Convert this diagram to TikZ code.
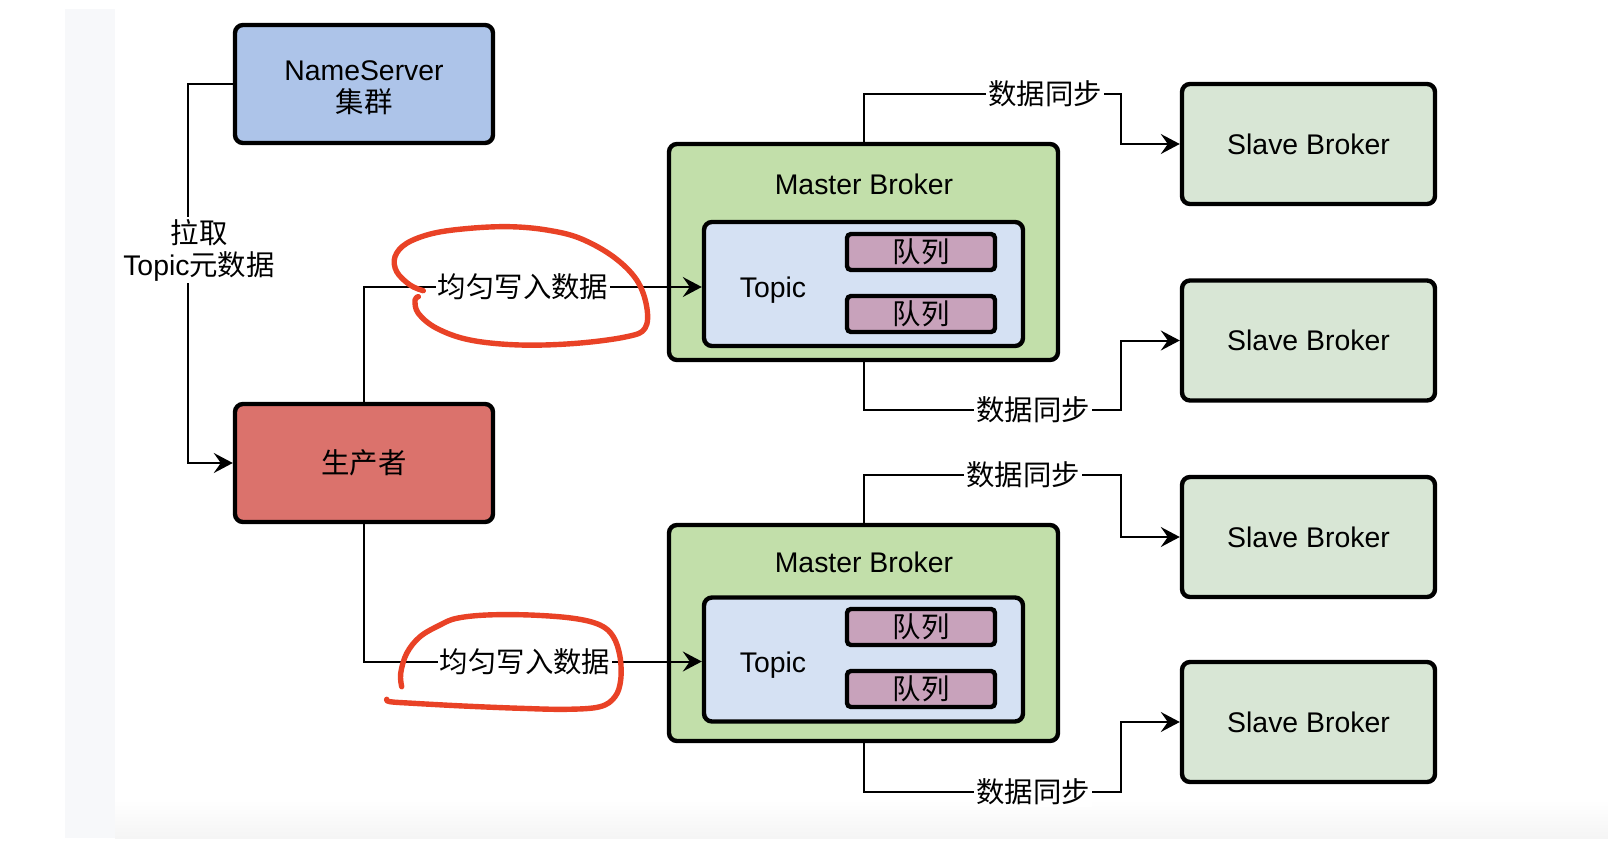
\documentclass[tikz,border=0pt]{standalone}
\usepackage{fontspec}
\setmainfont{Liberation Sans}
\newfontfamily\cjk{Noto Sans CJK SC}
\usetikzlibrary{arrows.meta}

\definecolor{nsblue}{RGB}{173,196,233}
\definecolor{prodred}{RGB}{219,114,108}
\definecolor{mastergreen}{RGB}{194,223,170}
\definecolor{topicblue}{RGB}{213,225,243}
\definecolor{queuepink}{RGB}{200,162,187}
\definecolor{slavegreen}{RGB}{216,230,213}
\definecolor{stripgray}{RGB}{247,248,250}
\definecolor{penred}{RGB}{233,66,38}

\begin{document}
\begin{tikzpicture}[x=0.5pt, y=-0.5pt,
    txt/.style={font=\fontsize{14.2}{16}\selectfont, align=center, inner sep=1pt},
    box/.style={draw, line width=2.2pt, rounded corners=4pt, txt},
    lbl/.style={txt, fill=white},
    link/.style={line width=1pt},
    arr/.style={link, -{Stealth[length=9.5pt, width=10pt, inset=3.5pt]}},
    pen/.style={draw=penred, line width=2.7pt, line cap=round, line join=round}]

        \useasboundingbox (0,0) rectangle (1608,846);

        % page background
        \fill[stripgray] (65,9) rectangle (115,838);
        \shade[top color=white, bottom color=black!4] (115,800) rectangle (1608,838);

        % name server and producer
        \node[box, fill=nsblue, minimum width=129pt, minimum height=59pt,
              label={[txt, yshift=-2pt]center:NameServer\\{\cjk 集群}}] (ns) at (364,84) {};
        \node[box, fill=prodred, minimum width=129pt, minimum height=59pt] (prod) at (364,463) {\cjk 生产者};

        % master brokers
        \node[box, fill=mastergreen, minimum width=194.5pt, minimum height=108pt] (m1) at (863.5,252) {};
        \node[box, fill=mastergreen, minimum width=194.5pt, minimum height=108pt] (m2) at (863.5,633) {};
        \node[txt] (mt1) at (864,184) {Master Broker};
        \node[txt] (mt2) at (864,562) {Master Broker};

        % topics with their queues
        \node[box, fill=topicblue, minimum width=159.5pt, minimum height=62pt] (t1) at (863.5,284) {};
        \node[box, fill=topicblue, minimum width=159.5pt, minimum height=62pt] (t2) at (863.5,659.5) {};
        \node[txt] (tt1) at (773,290) {Topic};
        \node[txt] (tt2) at (773,665) {Topic};
        \node[box, fill=queuepink, rounded corners=2pt, minimum width=74pt, minimum height=18pt] (q1a) at (921,252) {\cjk 队列};
        \node[box, fill=queuepink, rounded corners=2pt, minimum width=74pt, minimum height=18pt] (q1b) at (921,314) {\cjk 队列};
        \node[box, fill=queuepink, rounded corners=2pt, minimum width=74pt, minimum height=18pt] (q2a) at (921,627) {\cjk 队列};
        \node[box, fill=queuepink, rounded corners=2pt, minimum width=74pt, minimum height=18pt] (q2b) at (921,689) {\cjk 队列};

        % slave brokers
        \node[box, fill=slavegreen, minimum width=126.5pt, minimum height=60pt] (s1) at (1308.5,144) {Slave Broker};
        \node[box, fill=slavegreen, minimum width=126.5pt, minimum height=60pt] (s2) at (1308.5,340.5) {Slave Broker};
        \node[box, fill=slavegreen, minimum width=126.5pt, minimum height=60pt] (s3) at (1308.5,537) {Slave Broker};
        \node[box, fill=slavegreen, minimum width=126.5pt, minimum height=60pt] (s4) at (1308.5,722) {Slave Broker};

        % bends of the sync lines
        \coordinate (k1) at (1121,94);
        \coordinate (k2) at (1121,410);
        \coordinate (k3) at (1121,475);
        \coordinate (k4) at (1121,792);

        % connectors
        \draw[arr] (ns.west) -- ++(-45,0) |- (prod.west);
        \draw[arr] (prod.north) |- ([yshift=-1.5pt]t1.west);
        \draw[arr] (prod.south) |- ([yshift=-1pt]t2.west);
        \draw[arr] (m1.north) |- (k1) |- (s1.west);
        \draw[arr] (m1.south) |- (k2) |- (s2.west);
        \draw[arr] (m2.north) |- (k3) |- (s3.west);
        \draw[arr] (m2.south) |- (k4) |- (s4.west);

        % connector labels
        \node[lbl] (pull) at (199,250) {{\cjk 拉取}\\Topic{\cjk 元数据}};
        \node[lbl] (w1) at (523,287) {\cjk 均匀写入数据};
        \node[lbl] (w2) at (525,661.5) {\cjk 均匀写入数据};
        \node[lbl] (l1) at (1045,94) {\cjk 数据同步};
        \node[lbl] (l2) at (1033,410) {\cjk 数据同步};
        \node[lbl] (l3) at (1023,475) {\cjk 数据同步};
        \node[lbl] (l4) at (1033,792) {\cjk 数据同步};

        % hand drawn marks
        \draw[pen] plot[smooth, tension=0.6] coordinates {(423.3,290.7) (410,285) (396.7,271.7) (395,256.7) (406.7,243.3) (433.3,233.3) (470,228.3) (510,226.7) (546.7,230) (580,238.3) (613.3,256.7) (636.7,280) (646.7,306.7) (645,328.3) (626.7,336.7) (576.7,343.3) (520,345) (470,340) (436.7,328.3) (418.3,313.3) (415,300) (418.3,296.7)};
        \draw[pen] plot[smooth, tension=0.6] coordinates {(401.7,686.7) (400.7,673.3) (406.7,653.3) (420,636.7) (440,625) (456.7,618.3) (486.7,615) (530,615) (573.3,618.3) (600,625) (613.3,636.7) (620,656.7) (620.7,680) (615,696.7) (600,706.7) (566.7,709.3) (520,708.3) (463.3,706) (413.3,703.3) (390,701.7) (386.7,699.3)};
    \end{tikzpicture}
\end{document}
